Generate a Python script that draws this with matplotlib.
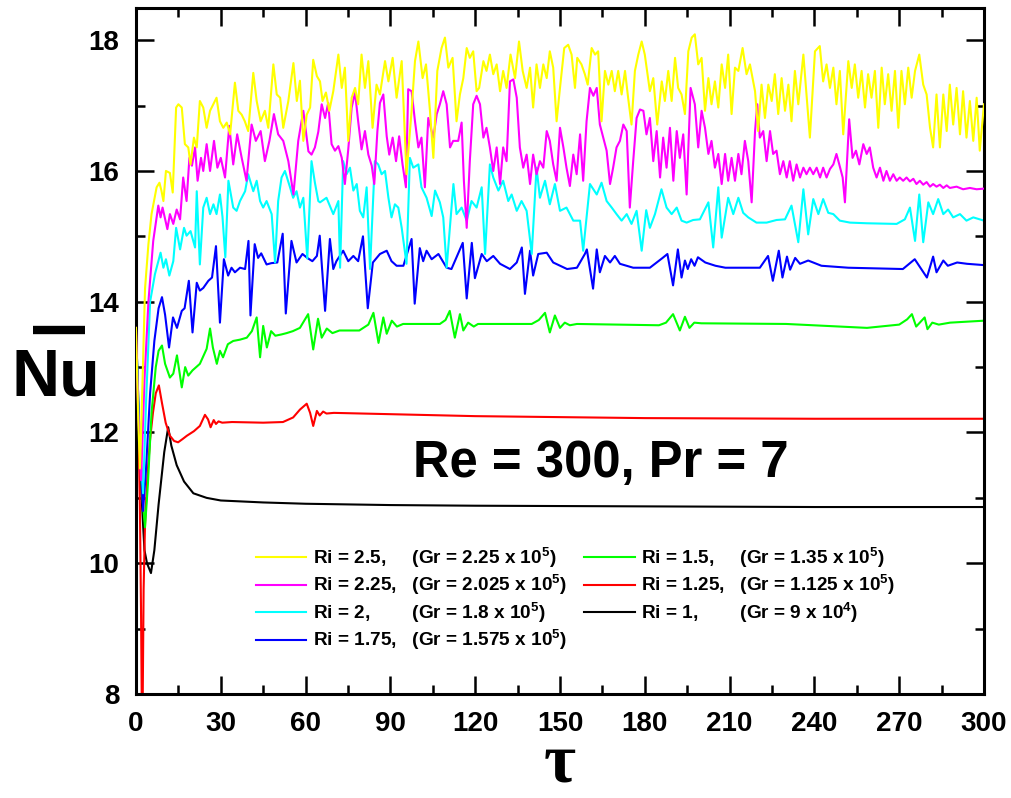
import matplotlib
matplotlib.use('Agg')
import matplotlib.pyplot as plt
from matplotlib.lines import Line2D
from matplotlib.ticker import MultipleLocator

plt.rcParams['font.family'] = ['Liberation Sans', 'DejaVu Sans']
plt.rcParams['font.weight'] = 'bold'
plt.rcParams['mathtext.fontset'] = 'custom'
plt.rcParams['mathtext.rm'] = 'Liberation Sans:bold'
plt.rcParams['mathtext.it'] = 'Liberation Sans:bold'
plt.rcParams['mathtext.bf'] = 'Liberation Sans:bold'
plt.rcParams['mathtext.default'] = 'regular'

# ---------------- data (tau, Nu) ----------------
ri_values = ['2.5', '2.25', '2', '1.75', '1.5', '1.25', '1']
gr_mantissa = ['2.25', '2.025', '1.8', '1.575', '1.35', '1.125', '9']
gr_exponent = [5, 5, 5, 5, 5, 5, 4]
colors = ['#FFFF00', '#FF00FF', '#00FFFF', '#0000FF', '#00FF00', '#FF0000', '#000000']

ri_2_5 = [(0, 13.6), (0.8, 12.2), (1.4, 11.45), (2.2, 12.6), (3.2, 14.2), (4.4, 14.88), (5.5, 15.34),
          (7.3, 15.75), (8.3, 15.82), (9.0, 15.7), (9.7, 15.54), (10.6, 16.0), (12.0, 15.97), (13.0, 15.67),
          (14.2, 16.97), (15.0, 17.02), (16.2, 16.97), (17.3, 16.41), (18.5, 16.36), (19.3, 16.1), (20.5, 16.51),
          (21.5, 16.36), (22.6, 17.07), (23.8, 16.97), (25.0, 16.66), (26.2, 16.92), (28.5, 17.12), (29.7, 16.76),
          (30.9, 16.66), (32.1, 16.74), (33.3, 16.56), (35.0, 17.35), (36.2, 16.92), (37.4, 16.86), (38.5, 16.76),
          (39.7, 16.61), (41.5, 17.5), (42.7, 17.07), (44.1, 16.76), (45.6, 16.92), (46.8, 16.66), (48.6, 17.63),
          (49.8, 17.17), (51.0, 17.12), (52.1, 16.66), (53.9, 17.07), (55.7, 17.65), (56.9, 17.07), (58.0, 17.38),
          (59.2, 16.46), (60.4, 16.86), (61.6, 16.97), (62.7, 17.7), (64.0, 17.45), (65.1, 17.37), (66.0, 17.07),
          (67.2, 17.2), (68.4, 16.92), (69.8, 17.22), (71.6, 17.78), (72.8, 17.27), (73.9, 17.58), (75.1, 16.46),
          (76.3, 17.12), (77.5, 17.27), (78.6, 17.02), (79.8, 17.78), (81.0, 17.27), (82.2, 17.68), (83.7, 16.66),
          (85.1, 17.32), (86.3, 17.17), (88.1, 17.68), (89.3, 17.37), (90.8, 17.73), (92.2, 17.12), (94.0, 17.68),
          (95.7, 15.95), (97.5, 16.92), (98.7, 17.68), (99.9, 17.98), (101.4, 17.42), (102.6, 17.63), (104.0, 16.92),
          (105.2, 16.2), (106.6, 17.53), (108.1, 17.88), (109.3, 18.04), (110.5, 17.58), (112.0, 17.73),
          (113.4, 16.76), (114.6, 17.17), (115.8, 17.42), (117.0, 17.88), (118.1, 17.73), (119.3, 17.83),
          (120.5, 17.22), (121.4, 17.27), (122.9, 17.68), (124.0, 17.53), (125.2, 17.78), (126.4, 17.48),
          (127.6, 17.63), (128.8, 17.22), (129.9, 17.53), (131.1, 17.27), (132.5, 17.78), (134.1, 17.42),
          (135.5, 17.98), (136.8, 17.53), (138.2, 17.27), (139.4, 17.58), (140.5, 16.97), (141.7, 17.63),
          (142.9, 17.27), (144.1, 17.63), (145.3, 17.42), (146.4, 17.83), (147.6, 17.58), (148.8, 16.76),
          (150.0, 17.27), (151.5, 17.88), (152.9, 17.93), (154.1, 17.78), (155.3, 17.27), (156.1, 17.73),
          (157.6, 17.63), (158.8, 17.48), (159.8, 17.32), (161.2, 17.88), (162.4, 17.78), (163.5, 17.83),
          (164.7, 16.76), (165.9, 17.53), (167.1, 17.32), (168.3, 17.53), (169.4, 17.22), (170.6, 17.53),
          (171.8, 17.17), (173.0, 17.53), (174.1, 17.12), (175.3, 16.71), (176.5, 17.53), (177.7, 17.78),
          (178.9, 17.98), (180.0, 17.78), (181.8, 17.22), (183.0, 17.42), (184.4, 16.71), (186.0, 17.37),
          (187.1, 17.07), (188.3, 17.53), (189.5, 17.07), (190.7, 17.73), (191.8, 17.27), (193.0, 17.17),
          (194.2, 16.87), (195.4, 17.83), (196.6, 18.04), (197.7, 18.09), (198.9, 17.63), (200.1, 17.73),
          (201.3, 16.92), (202.5, 17.42), (203.6, 17.02), (204.8, 17.37), (206.0, 16.97), (207.2, 17.63),
          (208.4, 17.27), (209.5, 17.78), (210.7, 16.87), (211.9, 17.58), (213.1, 17.53), (214.6, 17.88),
          (216.0, 17.48), (217.2, 17.63), (219.0, 17.22), (220.1, 16.61), (221.3, 17.32), (222.5, 16.81),
          (223.7, 17.32), (224.9, 17.07), (226.0, 17.48), (227.2, 16.87), (228.4, 17.42), (229.6, 16.92),
          (230.8, 17.32), (231.9, 16.76), (233.1, 17.53), (234.3, 17.02), (236.1, 17.78), (238.4, 16.51),
          (240.2, 17.83), (241.9, 17.91), (243.1, 17.37), (244.3, 17.63), (245.5, 17.27), (246.7, 17.58),
          (247.8, 17.02), (249.0, 17.53), (250.2, 16.56), (252.0, 17.68), (253.2, 17.27), (254.3, 17.63),
          (255.5, 17.12), (256.7, 17.53), (257.9, 16.97), (259.0, 17.48), (260.2, 17.12), (261.4, 17.53),
          (262.6, 16.66), (263.8, 17.58), (264.9, 17.02), (266.1, 17.48), (267.3, 16.92), (268.5, 17.53),
          (269.7, 16.66), (270.8, 17.53), (272.0, 17.02), (273.2, 17.58), (274.4, 17.12), (275.6, 17.53),
          (277.1, 17.78), (278.5, 17.32), (279.7, 17.17), (280.9, 16.66), (282.0, 16.36), (283.2, 17.17),
          (284.4, 16.36), (285.6, 17.17), (286.8, 16.61), (287.9, 17.32), (289.1, 16.71), (290.3, 17.27),
          (291.5, 16.56), (292.6, 17.22), (293.8, 16.51), (295.0, 17.07), (296.2, 16.46), (297.4, 17.12),
          (298.5, 16.31), (300.0, 17.02)]

ri_2_25 = [(0, 13.6), (0.8, 12.3), (1.8, 11.27), (3.0, 12.8), (4.4, 14.0), (6.1, 14.93), (7.9, 15.47),
           (8.7, 15.29), (9.4, 15.44), (11.1, 15.11), (12.0, 15.34), (13.2, 15.19), (14.4, 15.41), (15.6, 15.26),
           (16.7, 15.9), (17.9, 15.54), (18.9, 16.2), (19.8, 16.08), (20.9, 16.36), (21.8, 15.85), (23.0, 16.2),
           (23.8, 16.0), (25.0, 16.41), (26.2, 16.0), (27.6, 16.46), (28.8, 16.05), (30.0, 16.2), (31.5, 15.9),
           (33.0, 16.69), (34.4, 16.1), (35.8, 16.56), (37.4, 16.2), (39.1, 15.85), (40.9, 16.71), (42.4, 16.46),
           (44.1, 16.61), (45.6, 16.15), (47.2, 16.46), (48.8, 16.87), (50.3, 16.56), (52.1, 16.46),
           (53.9, 16.15), (55.7, 15.64), (57.4, 16.46), (59.2, 16.92), (61.0, 16.3), (62.1, 16.25),
           (63.3, 16.36), (64.5, 16.6), (65.7, 17.02), (66.9, 16.81), (68.0, 17.04), (69.2, 16.41),
           (70.4, 16.31), (71.6, 16.38), (72.8, 16.2), (73.9, 15.8), (75.1, 16.33), (76.3, 16.97), (77.5, 17.2),
           (78.6, 16.76), (79.8, 16.33), (81.0, 16.61), (82.2, 16.25), (83.4, 16.08), (84.3, 15.8), (85.4, 16.61),
           (86.3, 17.04), (87.5, 17.17), (88.7, 16.53), (89.6, 16.25), (90.8, 16.51), (92.0, 16.15),
           (93.1, 16.53), (94.3, 16.1), (95.5, 15.75), (96.3, 17.25), (97.5, 17.22), (98.7, 16.76),
           (99.9, 16.36), (101.0, 16.51), (102.2, 15.75), (103.4, 16.81), (105.2, 16.51), (106.4, 16.87),
           (107.5, 17.02), (108.7, 17.22), (109.9, 17.02), (111.1, 16.36), (112.2, 16.46), (114.0, 16.46),
           (115.2, 16.74), (116.0, 15.85), (117.0, 15.13), (118.1, 16.15), (119.3, 17.02), (120.5, 17.15),
           (121.7, 17.02), (122.9, 16.51), (124.0, 16.66), (125.2, 16.36), (126.4, 16.0), (127.6, 16.36),
           (128.8, 15.8), (129.9, 16.36), (131.1, 16.15), (132.3, 17.37), (133.5, 17.4), (134.7, 17.12),
           (135.8, 16.36), (137.0, 16.05), (138.2, 16.25), (139.4, 15.8), (140.5, 16.25), (141.7, 15.95),
           (142.9, 16.15), (144.1, 16.05), (145.3, 16.61), (146.4, 16.46), (147.6, 16.1), (148.8, 15.85),
           (150.0, 16.66), (151.2, 16.36), (152.3, 16.05), (153.5, 15.77), (154.7, 16.25), (155.9, 15.95),
           (157.1, 16.56), (158.2, 15.85), (159.4, 16.76), (160.6, 17.27), (161.8, 17.15), (163.0, 17.27),
           (164.1, 16.71), (165.3, 16.51), (166.5, 16.31), (167.7, 15.8), (168.8, 16.05), (170.0, 16.36),
           (171.2, 16.46), (172.4, 16.71), (173.6, 16.61), (174.7, 15.44), (175.9, 16.15), (177.1, 16.81),
           (178.3, 16.94), (179.5, 16.92), (180.6, 16.56), (181.8, 16.81), (183.0, 16.15), (184.2, 16.61),
           (185.4, 15.9), (186.5, 16.51), (187.7, 16.05), (188.9, 16.66), (190.1, 15.85), (191.3, 16.61),
           (192.4, 16.2), (193.6, 16.56), (194.8, 15.64), (196.2, 17.27), (197.7, 17.02), (198.9, 16.36),
           (200.1, 16.92), (201.3, 16.66), (202.5, 16.26), (203.6, 16.46), (204.8, 16.05), (206.0, 16.26),
           (207.2, 15.8), (208.4, 16.26), (209.5, 15.85), (210.7, 16.2), (211.9, 15.85), (213.1, 16.26),
           (214.2, 15.95), (215.4, 16.46), (216.6, 16.15), (217.8, 15.52), (219.0, 16.61), (219.8, 17.02),
           (220.7, 16.51), (221.9, 16.61), (223.1, 16.15), (224.3, 16.61), (225.4, 16.26), (226.6, 16.31),
           (227.8, 15.95), (229.0, 16.15), (230.2, 15.9), (231.3, 16.15), (232.5, 15.85), (233.7, 16.1),
           (234.9, 15.9), (236.1, 16.05), (237.2, 15.95), (238.4, 16.05), (239.6, 15.95), (240.8, 16.05),
           (242.0, 15.9), (243.1, 16.05), (244.3, 15.9), (245.5, 16.03), (246.7, 16.1), (247.8, 16.26),
           (248.8, 16.1), (250.0, 15.9), (250.8, 15.52), (252.3, 16.79), (253.5, 16.2), (254.7, 16.31),
           (255.9, 16.1), (257.3, 16.41), (258.5, 16.26), (259.6, 16.36), (260.8, 16.05), (262.0, 15.9),
           (263.2, 16.05), (264.4, 15.85), (265.5, 16.0), (266.7, 15.85), (267.9, 15.95), (269.1, 15.85),
           (270.2, 15.9), (271.4, 15.85), (272.6, 15.9), (273.8, 15.84), (275.0, 15.88), (276.1, 15.8),
           (277.3, 15.85), (278.5, 15.79), (279.7, 15.83), (280.9, 15.76), (282.0, 15.8), (283.2, 15.76),
           (284.4, 15.79), (285.6, 15.74), (286.8, 15.78), (287.9, 15.74), (290.3, 15.76), (292.6, 15.72),
           (295.0, 15.74), (297.4, 15.72), (300.0, 15.73)]

ri_2 = [(0, 13.6), (0.9, 12.2), (2.5, 11.07), (3.6, 12.5), (5.0, 14.0), (6.7, 14.42), (8.7, 14.75), (9.7, 14.52),
        (10.6, 14.65), (11.8, 14.4), (13.2, 14.62), (14.2, 15.13), (15.6, 14.8), (17.0, 15.13), (17.9, 15.01),
        (19.3, 15.08), (20.9, 14.83), (21.5, 15.69), (22.6, 14.57), (23.8, 15.44), (25.0, 15.59), (26.2, 15.34),
        (27.4, 15.49), (28.5, 15.34), (29.7, 15.64), (30.6, 15.3), (31.6, 14.68), (32.7, 15.85), (34.4, 15.44),
        (35.6, 15.39), (36.8, 15.54), (38.6, 15.69), (39.7, 15.95), (41.5, 15.69), (42.7, 15.85), (43.9, 15.54),
        (45.0, 15.44), (46.2, 15.54), (48.0, 15.34), (49.2, 14.6), (50.3, 15.54), (51.5, 15.9), (52.7, 16.0),
        (54.5, 15.75), (55.6, 15.59), (56.8, 15.69), (58.0, 15.44), (59.2, 15.59), (60.6, 14.66), (62.1, 16.15),
        (63.3, 15.82), (64.5, 15.54), (65.1, 15.52), (67.4, 15.59), (69.8, 15.34), (71.6, 15.54), (72.2, 14.52),
        (73.3, 16.15), (74.5, 15.95), (75.7, 16.05), (76.9, 15.7), (78.1, 15.8), (79.2, 15.39), (80.4, 15.29),
        (81.6, 15.75), (82.8, 14.5), (84.5, 16.15), (85.7, 16.1), (86.9, 15.95), (88.1, 16.0), (89.3, 15.59),
        (90.4, 15.29), (91.6, 15.49), (92.8, 15.44), (94.0, 15.13), (95.7, 14.58), (96.9, 16.2), (98.1, 16.05),
        (99.9, 16.1), (101.0, 15.75), (102.8, 15.59), (104.6, 15.31), (105.8, 15.7), (107.5, 15.52),
        (108.7, 15.29), (109.9, 14.52), (112.3, 15.8), (113.4, 15.34), (115.2, 15.44), (117.0, 15.24),
        (118.7, 15.54), (120.5, 15.44), (122.3, 15.75), (123.5, 14.73), (125.2, 16.1), (126.4, 15.9),
        (128.2, 15.7), (129.9, 15.85), (131.7, 15.54), (132.9, 15.64), (134.7, 15.39), (136.4, 15.54),
        (138.2, 15.39), (140.0, 14.73), (141.7, 16.05), (142.9, 15.59), (144.7, 15.85), (146.4, 15.49),
        (148.2, 15.8), (150.0, 15.39), (152.3, 15.44), (154.7, 15.24), (157.1, 15.24), (158.2, 14.78),
        (160.6, 15.8), (163.0, 15.64), (164.7, 15.82), (166.5, 15.54), (168.3, 15.44), (170.0, 15.34),
        (171.8, 15.24), (173.6, 15.34), (175.3, 15.19), (177.1, 15.39), (178.9, 14.78), (180.5, 15.4),
        (181.8, 15.13), (183.6, 15.34), (185.9, 15.72), (187.7, 15.44), (189.5, 15.34), (191.3, 15.44),
        (193.0, 15.24), (194.8, 15.21), (197.1, 15.25), (199.5, 15.26), (202.5, 15.52), (204.2, 14.83),
        (206.0, 15.75), (207.2, 14.98), (209.5, 15.59), (211.3, 15.34), (213.1, 15.59), (214.8, 15.36),
        (216.6, 15.29), (219.5, 15.21), (223.1, 15.21), (226.6, 15.25), (229.6, 15.26), (231.9, 15.47),
        (234.3, 14.91), (236.1, 15.72), (237.8, 15.03), (239.6, 15.57), (241.4, 15.34), (243.1, 15.57),
        (244.9, 15.36), (246.7, 15.34), (249.0, 15.24), (252.6, 15.21), (258.5, 15.2), (269.1, 15.19),
        (272.0, 15.26), (273.8, 15.44), (275.6, 14.93), (277.1, 15.64), (278.5, 14.91), (280.3, 15.52),
        (282.0, 15.34), (283.8, 15.57), (285.6, 15.34), (287.3, 15.41), (289.1, 15.29), (291.5, 15.34),
        (293.8, 15.24), (296.2, 15.29), (300.0, 15.24)]

ri_1_75 = [(0, 13.6), (1.2, 12.0), (2.5, 10.8), (3.5, 11.4), (5.0, 12.6), (6.5, 13.4), (8.0, 13.9), (9.2, 14.07),
           (10.3, 13.8), (11.7, 13.3), (13.1, 13.76), (14.5, 13.6), (16.2, 13.86), (17.2, 13.9), (18.7, 14.32),
           (20.0, 13.53), (21.5, 14.29), (22.6, 14.17), (23.8, 14.21), (25.6, 14.32), (26.9, 14.37),
           (28.3, 14.85), (29.7, 13.68), (31.1, 14.65), (32.6, 14.4), (33.8, 14.52), (35.0, 14.45),
           (36.8, 14.52), (38.6, 14.5), (39.8, 14.93), (40.5, 13.79), (42.0, 14.88), (43.2, 14.67),
           (44.3, 14.74), (46.2, 14.57), (47.9, 14.59), (50.0, 14.6), (51.9, 15.04), (53.0, 13.82),
           (55.0, 14.93), (56.8, 14.6), (58.9, 14.73), (60.6, 14.67), (62.4, 14.62), (64.0, 14.7),
           (65.0, 15.01), (66.9, 13.86), (68.6, 14.96), (69.8, 14.5), (70.9, 14.62), (73.3, 14.78),
           (75.1, 14.62), (76.9, 14.7), (78.6, 14.62), (80.3, 15.0), (82.0, 13.9), (83.8, 14.6), (86.3, 14.73),
           (88.7, 14.78), (90.4, 14.62), (92.2, 14.55), (94.6, 14.55), (97.5, 14.96), (98.6, 13.97),
           (100.4, 14.82), (101.6, 14.62), (102.8, 14.78), (104.6, 14.65), (107.0, 14.73), (109.9, 14.52),
           (111.6, 14.5), (115.6, 14.9), (117.0, 14.05), (118.8, 14.9), (119.9, 14.36), (122.3, 14.73),
           (124.1, 14.62), (126.4, 14.7), (128.8, 14.58), (132.3, 14.5), (134.7, 14.6), (136.5, 14.83),
           (137.6, 14.12), (139.4, 14.78), (140.5, 14.4), (142.3, 14.73), (145.3, 14.75), (147.6, 14.6),
           (152.5, 14.5), (156.0, 14.52), (158.8, 14.73), (159.5, 14.8), (161.7, 14.2), (163.0, 14.8),
           (164.1, 14.45), (165.9, 14.7), (167.7, 14.6), (169.4, 14.7), (171.2, 14.58), (175.9, 14.52),
           (181.8, 14.52), (186.3, 14.67), (188.0, 14.73), (190.0, 14.25), (191.7, 14.8), (193.0, 14.37),
           (194.2, 14.63), (195.2, 14.5), (196.4, 14.65), (197.6, 14.55), (198.8, 14.68), (201.4, 14.6),
           (205.0, 14.55), (208.5, 14.52), (220.7, 14.52), (223.6, 14.7), (225.3, 14.32), (227.4, 14.78),
           (228.7, 14.37), (230.3, 14.69), (231.4, 14.49), (233.2, 14.67), (234.9, 14.58), (237.8, 14.63),
           (242.5, 14.55), (252.0, 14.52), (271.3, 14.5), (275.5, 14.65), (279.8, 14.37), (282.0, 14.69),
           (283.2, 14.45), (285.6, 14.63), (287.2, 14.55), (290.5, 14.6), (294.0, 14.58), (300.0, 14.56)]

ri_1_5 = [(0, 13.6), (1.2, 12.0), (2.3, 11.0), (3.2, 10.55), (4.2, 11.2), (5.5, 12.3), (7.0, 13.0), (8.0, 13.25),
          (9.2, 13.33), (10.3, 13.05), (12.0, 12.84), (13.2, 12.9), (14.5, 13.18), (16.2, 12.69), (17.4, 13.0),
          (18.5, 12.87), (20.0, 12.95), (22.6, 13.05), (25.0, 13.28), (26.2, 13.59), (27.2, 13.3),
          (28.6, 13.05), (29.7, 13.25), (30.8, 13.15), (32.5, 13.35), (34.4, 13.4), (36.8, 13.42),
          (39.2, 13.45), (41.0, 13.55), (42.7, 13.76), (43.9, 13.15), (45.0, 13.63), (46.3, 13.3),
          (47.8, 13.55), (49.3, 13.48), (51.5, 13.5), (53.3, 13.52), (55.5, 13.55), (58.0, 13.6),
          (60.9, 13.81), (62.7, 13.27), (64.4, 13.74), (65.7, 13.45), (67.5, 13.59), (69.5, 13.52),
          (72.0, 13.56), (79.0, 13.56), (82.2, 13.65), (84.0, 13.83), (85.8, 13.37), (87.5, 13.76),
          (88.7, 13.51), (90.5, 13.71), (92.3, 13.62), (94.5, 13.66), (107.5, 13.66), (109.5, 13.72),
          (111.0, 13.86), (112.8, 13.45), (114.6, 13.81), (115.8, 13.56), (117.5, 13.68), (119.5, 13.62),
          (121.0, 13.66), (140.0, 13.66), (142.5, 13.72), (144.7, 13.83), (146.4, 13.53), (148.2, 13.79),
          (150.0, 13.6), (151.7, 13.68), (153.5, 13.64), (156.0, 13.66), (185.0, 13.64), (187.5, 13.68),
          (190.0, 13.81), (192.4, 13.56), (194.2, 13.77), (195.8, 13.6), (197.5, 13.68), (200.0, 13.67),
          (230.0, 13.66), (258.6, 13.6), (270.0, 13.65), (272.8, 13.73), (274.5, 13.81), (276.0, 13.62),
          (279.0, 13.76), (280.0, 13.58), (281.7, 13.68), (284.0, 13.65), (288.0, 13.68), (300.0, 13.71)]

ri_1_25 = [(0, 13.6), (0.8, 12.3), (1.4, 10.8), (1.8, 9.2), (2.1, 7.6), (2.4, 8.0), (2.7, 9.6), (3.2, 10.6),
           (4.0, 11.3), (5.0, 11.9), (6.0, 12.3), (7.0, 12.6), (8.1, 12.72), (9.2, 12.45), (10.5, 12.15),
           (12.0, 11.95), (13.5, 11.87), (14.9, 11.85), (16.5, 11.9), (18.0, 11.95), (20.5, 12.02),
           (22.6, 12.1), (24.4, 12.27), (25.5, 12.2), (26.4, 12.08), (27.5, 12.19), (28.3, 12.13),
           (29.2, 12.17), (30.5, 12.15), (34.0, 12.16), (45.0, 12.15), (52.0, 12.16), (55.6, 12.23),
           (58.0, 12.35), (60.4, 12.44), (61.6, 12.3), (62.7, 12.1), (64.0, 12.33), (65.0, 12.26),
           (66.2, 12.32), (67.4, 12.29), (70.0, 12.3), (90.0, 12.28), (120.0, 12.25), (180.0, 12.22),
           (240.0, 12.21), (300.0, 12.21)]

ri_1 = [(0, 13.6), (1.0, 12.0), (2.0, 11.0), (3.0, 10.2), (3.9, 10.0), (5.3, 9.85), (6.5, 10.2), (8.0, 10.9),
        (10.0, 11.7), (11.4, 12.08), (12.5, 11.8), (14.4, 11.5), (17.0, 11.25), (20.3, 11.07), (25.0, 11.0),
        (30.0, 10.96), (45.0, 10.93), (60.0, 10.91), (90.0, 10.89), (120.0, 10.88), (180.0, 10.87),
        (240.0, 10.86), (300.0, 10.86)]

series = [ri_2_5, ri_2_25, ri_2, ri_1_75, ri_1_5, ri_1_25, ri_1]

# ---------------- figure ----------------
fig = plt.figure(figsize=(10.11, 7.98), dpi=100)
ax = fig.add_axes([0.1345, 0.1303, 0.8388, 0.8603])


def width_units(s):
    return sum(2 if c.isdigit() else 1 for c in s)


col_split = 4
labels = []
for i, (ri, gm, ge) in enumerate(zip(ri_values, gr_mantissa, gr_exponent)):
    col = ri_values[:col_split] if i < col_split else ri_values[col_split:]
    maxw = max(width_units(r) for r in col)
    pad = ' ' * (3 + maxw - width_units(ri))
    labels.append(f'Ri = {ri},{pad}(Gr = {gm} x 10$^{{{ge}}}$)')

handles = []
n = len(series)
for i, (data, c, lab) in enumerate(zip(series, colors, labels)):
    t = [p[0] for p in data]
    nu = [p[1] for p in data]
    h, = ax.plot(t, nu, color=c, lw=1.5, label=lab, zorder=2 + (n - i) * 0.1)
    handles.append(h)

ax.set_xlim(0, 300)
ax.set_ylim(8, 18.5)
ax.xaxis.set_major_locator(MultipleLocator(30))
ax.xaxis.set_minor_locator(MultipleLocator(15))
ax.yaxis.set_major_locator(MultipleLocator(2))
ax.yaxis.set_minor_locator(MultipleLocator(1))
ax.tick_params(which='both', direction='in', top=True, right=True, width=1.8, labelsize=20, pad=12)
ax.tick_params(which='major', length=13)
ax.tick_params(which='minor', length=6.5)
for sp in ax.spines.values():
    sp.set_linewidth(2.2)

leg = ax.legend(handles=handles, labels=labels, ncol=2, loc='upper left',
                bbox_to_anchor=(0.1415, 0.2160), frameon=False, fontsize=13.7,
                handlelength=2.65, handletextpad=0.35, columnspacing=0.9,
                labelspacing=0.18, borderpad=0, borderaxespad=0)
for lh in leg.get_lines():
    lh.set_linewidth(1.5)

ax.text(0.3267, 0.316, 'Re = 300, Pr = 7', transform=ax.transAxes, fontsize=36.5,
        fontweight='bold', ha='left', va='baseline')

ax.set_ylabel('Nu', rotation=0, fontsize=48, fontweight='bold', ha='center', va='baseline')
ax.yaxis.set_label_coords(-0.0949, 0.4355)
fig.add_artist(Line2D([33 / 1011, 85 / 1011], [1 - 330 / 798] * 2, color='black', lw=6,
                      solid_capstyle='butt', transform=fig.transFigure))

ax.set_xlabel('τ', fontsize=50, fontweight='bold', family=['Liberation Serif', 'DejaVu Serif'],
              va='baseline')
ax.xaxis.set_label_coords(0.5, -0.127)

fig.savefig('out.png', dpi=100)
